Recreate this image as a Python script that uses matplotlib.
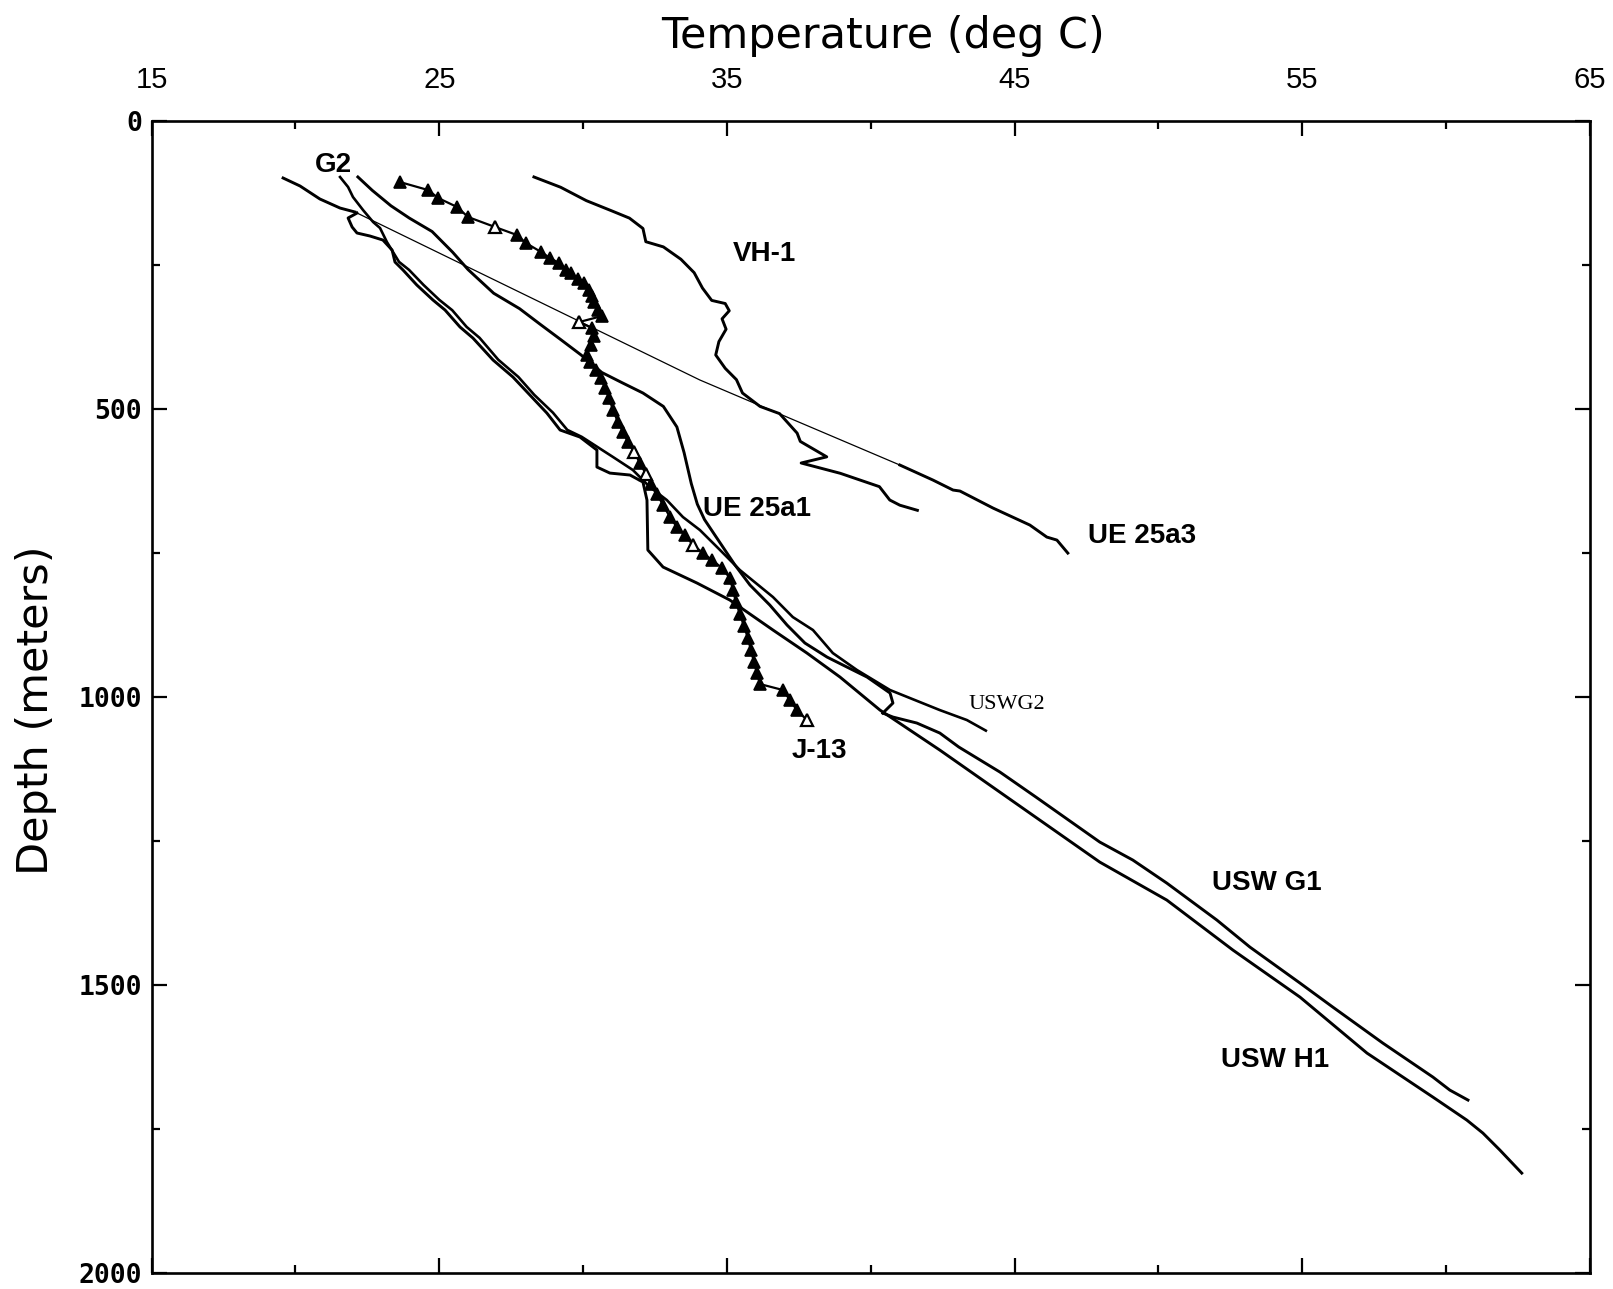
import matplotlib
matplotlib.use("Agg")
import matplotlib.pyplot as plt

# ---------------- data (temperature degC, depth m) ----------------
vh1_t = [28.29, 29.22, 30.11, 31.0, 31.61, 32.08, 32.18, 32.79, 33.4, 33.86, 34.15, 34.47, 34.94,
         35.08, 34.83, 34.97, 34.72, 34.61, 34.94, 35.33, 35.54, 36.15, 36.83, 37.44, 37.55, 38.47,
         37.58, 38.94, 40.3, 40.66, 41.01, 41.62]
vh1_d = [96.5, 114.4, 137.6, 155.5, 168, 186, 209, 218, 239.5, 262.8, 289.6, 311, 316.4,
         329, 343, 361, 382.6, 405.8, 429, 448.7, 471.9, 495.2, 507.7, 541.6, 556, 582.8,
         593.5, 611.4, 634.6, 657.8, 666.8, 675.7]

ue25a3_t = [19.57, 20.16, 20.85, 21.55, 22.07, 34.06, 41.01, 42.16, 42.86, 43.10, 44.25, 45.53,
            46.12, 46.47, 46.85]
ue25a3_d = [98.3, 112.2, 134.8, 150.5, 157.4, 449.3, 597.0, 623.1, 640.5, 642.2, 671.8, 701.3,
            722.2, 727.4, 750.0]

ue25a1_t = [22.17, 22.67, 23.32, 23.96, 24.75, 25.46, 26.0, 26.89, 27.79, 28.5, 29.22, 29.93,
            30.65, 31.36, 32.08, 32.79, 33.26, 33.51, 33.76, 33.97, 34.22, 34.58, 34.94, 35.28,
            35.80, 36.49, 37.09, 37.71, 38.48, 39.17, 39.87, 40.67, 40.77, 40.42]
ue25a1_d = [96.5, 119.8, 146.6, 168.0, 191.3, 227.0, 257.4, 298.5, 325.3, 352.2, 379.0, 405.8,
            436.2, 454.1, 471.9, 495.2, 530.9, 575.5, 629.2, 665.0, 691.8, 718.7, 745.5, 770.8,
            805.5, 840.3, 875.1, 906.3, 930.7, 948.0, 965.4, 993.2, 1010.6, 1028.0]

uswg2_t = [21.55, 21.83, 22.00, 22.35, 22.70, 22.94, 23.18, 23.6, 23.95, 24.45, 25.0, 25.45,
           25.95, 26.4, 27.05, 27.75, 28.3, 28.95, 29.45, 29.95, 31.04, 31.73, 32.32, 32.91,
           33.47, 34.06, 34.76, 35.45, 36.60, 37.29, 37.99, 38.68, 39.52, 40.67, 42.40, 43.34, 44.0]
uswg2_d = [96.6, 114.0, 131.4, 154.0, 174.8, 185.2, 209.6, 244, 258, 284, 310, 328,
           357, 376, 414, 444, 475, 506, 536, 548, 583.1, 605.7, 635.3, 657.9,
           687.4, 710.0, 744.7, 779.5, 826.4, 861.2, 883.7, 923.7, 953.2, 988.0, 1022.8, 1040.1, 1058.5]

uswh1_t = [22.14, 21.83, 21.97, 22.14, 22.59, 23.04, 23.36, 23.46, 23.74, 24.22, 24.78, 25.20,
           25.72, 26.17, 26.87, 27.56, 28.15, 28.74, 29.20, 29.89, 30.48, 30.48, 30.93, 31.63,
           32.08, 32.22, 32.25, 32.78, 33.96, 35.10, 36.60, 37.78, 38.93, 40.32, 42.40, 47.96,
           50.29, 52.59, 54.92, 57.25, 59.54, 60.72, 61.28, 61.87, 62.63]
uswh1_d = [159.2, 167.8, 183.5, 193.9, 199.1, 206.1, 223.5, 244.3, 258.2, 284.3, 310.3, 327.7,
           357.2, 376.4, 414.6, 444.1, 475.4, 506.7, 536.2, 548.4, 571.0, 600.5, 611.0, 614.4,
           626.6, 657.9, 744.7, 774.3, 802.1, 831.6, 883.7, 923.7, 965.4, 1022.8, 1092.3, 1286.9,
           1352.9, 1439.8, 1521.5, 1618.8, 1695.2, 1735.2, 1757.8, 1787.3, 1827.3]

uswg1_t = [40.42, 40.77, 41.60, 42.40, 43.06, 44.49, 45.74, 47.96, 49.11, 50.29, 52.03, 53.18,
           54.92, 56.06, 57.80, 59.54, 60.13, 60.76]
uswg1_d = [1028.0, 1034.9, 1045.3, 1062.7, 1087.0, 1130.5, 1173.9, 1252.1, 1283.4, 1323.4, 1387.6,
           1434.6, 1497.1, 1538.8, 1601.4, 1660.4, 1683.1, 1700.4]

j13_t = [23.63, 24.61, 24.96, 25.62, 26.00, 26.94, 27.70, 28.01, 28.54, 28.85, 29.16, 29.40, 29.58,
         29.82, 30.03, 30.20, 30.31, 30.38, 30.52, 30.66, 29.86, 30.31, 30.38, 30.27, 30.13, 30.24,
         30.45, 30.62, 30.76, 30.90, 31.04, 31.21, 31.39, 31.56, 31.77, 31.98, 32.18, 32.36, 32.57,
         32.78, 33.02, 33.26, 33.54, 33.82, 34.17, 34.48, 34.83, 35.10, 35.21, 35.31, 35.45, 35.59,
         35.73, 35.83, 35.94, 36.04, 36.15, 36.95, 37.19, 37.43, 37.78]
j13_d = [105.3, 119.2, 133.1, 148.7, 166.1, 183.5, 197.4, 211.3, 226.9, 237.4, 246.0, 258.2, 263.4,
         273.8, 280.8, 293.0, 303.4, 313.8, 327.7, 338.1, 348.6, 359.0, 372.9, 388.5, 405.9, 418.1,
         432.0, 445.9, 463.2, 480.6, 501.5, 522.3, 539.7, 557.1, 574.5, 593.6, 612.7, 630.1, 647.4,
         666.5, 687.4, 704.8, 718.7, 736.0, 750.0, 762.1, 776.0, 793.4, 814.2, 835.1, 855.9, 876.8,
         897.6, 918.5, 939.4, 958.5, 977.6, 988.0, 1005.4, 1022.8, 1040.1]

x_ticks = [15, 25, 35, 45, 55, 65]
x_minor = [20, 30, 40, 50, 60]
y_ticks = [0, 500, 1000, 1500, 2000]
y_minor = [250, 750, 1250, 1750]

labels = ["G2", "VH-1", "UE 25a1", "UE 25a3", "USWG2", "J-13", "USW G1", "USW H1"]
label_t = [21.31, 36.29, 34.17, 47.56, 43.41, 38.21, 51.85, 52.17]
label_d = [75, 230.6, 673.5, 720.4, 1013.9, 1094, 1322.6, 1630]

# ---------------- styling ----------------
SANS = ["Liberation Sans", "DejaVu Sans"]
MONO = ["DejaVu Sans Mono", "DejaVu Sans"]
LW = 2.1

fig = plt.figure(figsize=(16.13, 12.89), dpi=100)
ax = fig.add_axes([0.0940, 0.0128, 0.8917, 0.8930])
ax.set_xlim(15, 65)
ax.set_ylim(2000, 0)

for s in ax.spines.values():
    s.set_linewidth(1.9)

ax.set_xticks(x_ticks)
ax.set_xticks(x_minor, minor=True)
ax.set_yticks(y_ticks)
ax.set_yticks(y_minor, minor=True)
ax.tick_params(which="both", direction="in", top=True, bottom=True, left=True, right=True,
               labeltop=True, labelbottom=False, labelleft=True, labelright=False, width=1.6)
ax.tick_params(which="major", length=11)
ax.tick_params(which="minor", length=5.5)
ax.tick_params(axis="x", which="major", pad=20)
ax.tick_params(axis="y", which="major", pad=7)
ax.set_xticklabels([str(v) for v in x_ticks], family=SANS, fontsize=21)
ax.set_yticklabels([str(v) for v in y_ticks], family=MONO, fontsize=19, weight="bold")

# curves
ax.plot(vh1_t, vh1_d, color="black", lw=LW, solid_joinstyle="round")
ax.plot(ue25a3_t, ue25a3_d, color="black", lw=0.9)
ax.plot(ue25a3_t[:5], ue25a3_d[:5], color="black", lw=LW, solid_joinstyle="round")
ax.plot(ue25a3_t[6:], ue25a3_d[6:], color="black", lw=LW, solid_joinstyle="round")
ax.plot(ue25a1_t, ue25a1_d, color="black", lw=LW, solid_joinstyle="round")
ax.plot(uswg2_t, uswg2_d, color="black", lw=1.9, solid_joinstyle="round")
ax.plot(uswh1_t, uswh1_d, color="black", lw=LW, solid_joinstyle="round")
ax.plot(uswg1_t, uswg1_d, color="black", lw=LW, solid_joinstyle="round")

# J-13 with triangles
open_idx = {5, 20, 34, 36, 43, 60}
ax.plot(j13_t, j13_d, color="black", lw=1.6)
filled_t = [t for i, t in enumerate(j13_t) if i not in open_idx]
filled_d = [d for i, d in enumerate(j13_d) if i not in open_idx]
open_t = [t for i, t in enumerate(j13_t) if i in open_idx]
open_d = [d for i, d in enumerate(j13_d) if i in open_idx]
ax.plot(filled_t, filled_d, ls="none", marker="^", ms=8.5, mfc="black", mec="black", mew=1.2)
ax.plot(open_t, open_d, ls="none", marker="^", ms=8.5, mfc="white", mec="black", mew=1.6)

# curve labels
align = ["center", "center", "left", "left", "left", "center", "left", "left"]
for txt, t, d, ha in zip(labels, label_t, label_d, align):
    if txt == "USWG2":
        ax.text(t, d, txt, ha=ha, va="center", fontsize=16, family=["Liberation Serif", "DejaVu Serif"])
    else:
        ax.text(t, d, txt, ha=ha, va="center", fontsize=20, family=SANS, weight="bold")

# axis titles
fig.text(883 / 1613, 1 - 36 / 1289, "Temperature (deg C)", ha="center", va="center",
         fontsize=31, family=["DejaVu Sans"])
fig.text(36 / 1613, 1 - 710 / 1289, "Depth (meters)", ha="center", va="center",
         rotation=90, fontsize=31, family=["DejaVu Sans"])

fig.savefig("out.png", dpi=100, facecolor="white")
